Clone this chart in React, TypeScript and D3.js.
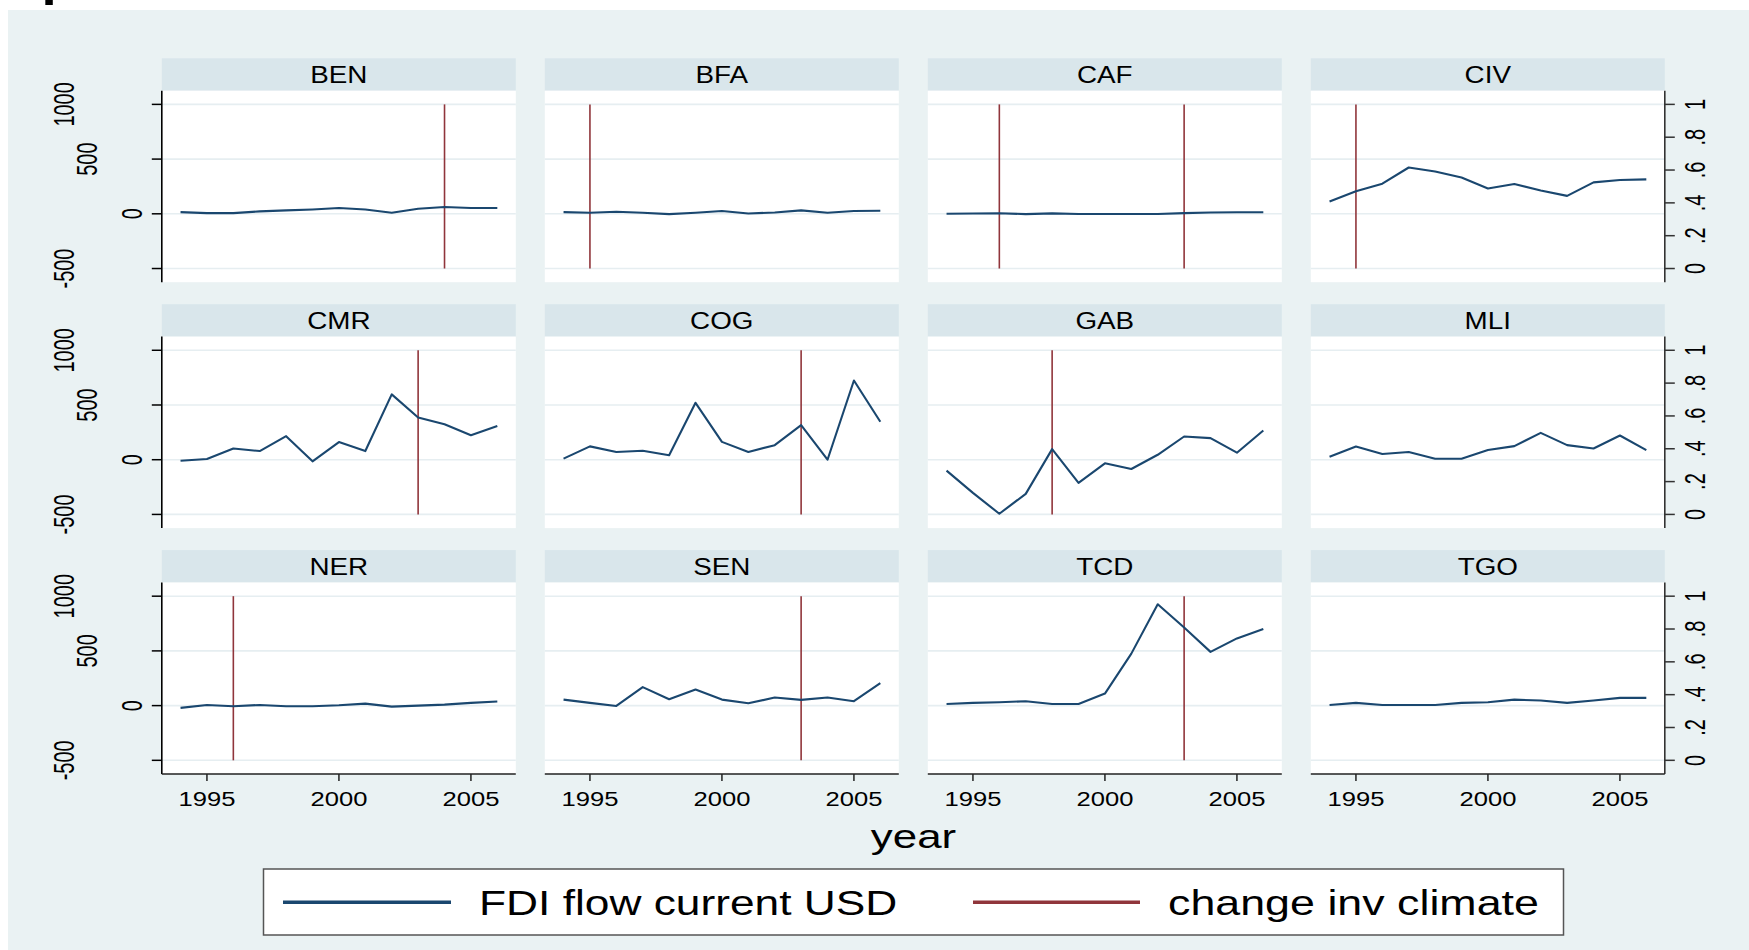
import React from 'react';
import * as d3 from 'd3';

// panels, in the order Stata lays them out
const countries = ['BEN', 'BFA', 'CAF', 'CIV', 'CMR', 'COG', 'GAB', 'MLI', 'NER', 'SEN', 'TCD', 'TGO'];
const years = [1994, 1995, 1996, 1997, 1998, 1999, 2000, 2001, 2002, 2003, 2004, 2005, 2006];

// FDI flow, current USD (millions)
const fdiBEN = [15, 6, 6, 22, 31, 40, 53, 40, 9, 46, 62, 53, 53];
const fdiBFA = [15, 9, 19, 9, -3, 9, 25, 3, 12, 31, 9, 25, 28];
const fdiCAF = [0, 3, 5, -3, 4, -2, -2, -2, -2, 6, 12, 14, 14];
const fdiCIV = [112, 207, 275, 423, 386, 331, 232, 272, 213, 164, 287, 309, 315];
const fdiCMR = [-9, 6, 103, 79, 215, -15, 161, 79, 597, 385, 324, 224, 309];
const fdiCOG = [10, 122, 71, 82, 41, 520, 163, 71, 133, 316, 0, 724, 347];
const fdiGAB = [-100, -303, -494, -312, 97, -212, -33, -85, 45, 212, 197, 64, 267];
const fdiMLI = [27, 121, 52, 70, 9, 9, 88, 124, 245, 133, 103, 221, 88];
const fdiNER = [-21, 6, -6, 6, -6, -6, 3, 18, -9, 0, 9, 25, 37];
const fdiSEN = [55, 25, -3, 169, 58, 147, 55, 21, 74, 52, 74, 40, 206];
const fdiTCD = [15, 25, 31, 40, 15, 15, 110, 475, 926, 713, 491, 614, 700];
const fdiTGO = [6, 25, 6, 6, 6, 25, 31, 55, 46, 25, 46, 71, 71];

// years where "change inv climate" = 1
const changeBEN = [2004];
const changeBFA = [1995];
const changeCAF = [1996, 2003];
const changeCIV = [1995];
const changeCMR = [2003];
const changeCOG = [2003];
const changeGAB = [1998];
const changeMLI: number[] = [];
const changeNER = [1996];
const changeSEN = [2003];
const changeTCD = [2003];
const changeTGO: number[] = [];

const fdiSeries = [fdiBEN, fdiBFA, fdiCAF, fdiCIV, fdiCMR, fdiCOG, fdiGAB, fdiMLI, fdiNER, fdiSEN, fdiTCD, fdiTGO];
const changeSeries = [changeBEN, changeBFA, changeCAF, changeCIV, changeCMR, changeCOG, changeGAB, changeMLI, changeNER, changeSEN, changeTCD, changeTGO];

const leftTicks = [-500, 0, 500, 1000];
const rightTicks = [0, 0.2, 0.4, 0.6, 0.8, 1];
const rightLabels = ['0', '.2', '.4', '.6', '.8', '1'];
const yearTicks = [1995, 2000, 2005];

const legendLabels = ['FDI flow current USD', 'change inv climate'];

const FONT = '"Liberation Sans", Arial, sans-serif';
const NAVY = '#1a476f';
const MAROON = '#90353b';
const BG = '#eaf2f3';
const STRIP = '#d9e6eb';
const GRID = '#e6eef1';

const colX0 = 161.8;
const colPitch = 383;
const colW = 354;
const rowY0 = 58.3;
const rowPitch = 245.9;
const stripH = 32.4;
const plotH = 191.5;

// text in the picture is wider than it is tall, so stretch it
function SText({ x, y, size, k, anchor = 'middle', rotate = false, weight = 'normal', children }: any) {
  if (rotate) {
    return (
      <g transform={`translate(${x},${y}) scale(${k},1) rotate(-90)`}>
        <text x={0} y={size * 0.358} fontSize={size} fontFamily={FONT} textAnchor={anchor} fill="#000">
          {children}
        </text>
      </g>
    );
  }
  return (
    <g transform={`translate(${x},${y}) scale(${k},1)`}>
      <text x={0} y={0} fontSize={size} fontFamily={FONT} fontWeight={weight} textAnchor={anchor} fill="#000">
        {children}
      </text>
    </g>
  );
}

export default function App() {
  const x = d3.scaleLinear().domain([1993.29, 2006.7]).range([0, colW]);
  const y = d3.scaleLinear().domain([-625, 1125]).range([plotH, 0]);
  const yr = d3.scaleLinear().domain([0, 1]).range([y(-500), y(1000)]);
  const line = d3
    .line<number>()
    .x((d, i) => x(years[i]))
    .y(d => y(d));

  return (
    <div style={{ position: 'absolute', left: 0, top: 0 }}>
      <svg width={1749} height={950} style={{ display: 'block' }}>
        <rect x={0} y={0} width={1749} height={950} fill="#fff" />
        <rect x={8} y={10} width={1741} height={940} fill={BG} />
        {/* cut-off title */}
        <SText x={41.4} y={-4} size={43} k={1.27} anchor="start" weight="bold">p</SText>

        {countries.map((c, idx) => {
          const col = idx % 4;
          const row = Math.floor(idx / 4);
          const px = colX0 + col * colPitch;
          const sy = rowY0 + row * rowPitch;
          const py = sy + stripH;
          return (
            <g key={c}>
              <rect x={px} y={sy} width={colW} height={stripH} fill={STRIP} />
              <SText x={px + colW / 2} y={sy + stripH / 2 + 8.2} size={23} k={1.21}>{c}</SText>
              <g transform={`translate(${px},${py})`}>
                <rect x={0} y={0} width={colW} height={plotH} fill="#fff" />
                {leftTicks.map(t => (
                  <line key={t} x1={0} x2={colW} y1={y(t)} y2={y(t)} stroke={GRID} strokeWidth={1.6} />
                ))}
                {changeSeries[idx].map(yy => (
                  <line key={yy} x1={x(yy)} x2={x(yy)} y1={yr(0)} y2={yr(1)} stroke={MAROON} strokeWidth={1.6} />
                ))}
                <path d={line(fdiSeries[idx]) || ''} fill="none" stroke={NAVY} strokeWidth={2.1} strokeLinejoin="round" />

                {col === 0 && (
                  <g>
                    <line x1={0} x2={0} y1={0} y2={plotH} stroke="#000" strokeWidth={1.6} />
                    {leftTicks.map(t => {
                      const lab = String(t);
                      return (
                        <g key={t}>
                          <line x1={-10} x2={0} y1={y(t)} y2={y(t)} stroke="#000" strokeWidth={1.5} />
                          <SText x={-7 - 22.7 * lab.length} y={y(t)} size={20} k={1.45} rotate>{lab}</SText>
                        </g>
                      );
                    })}
                  </g>
                )}

                {col === 3 && (
                  <g>
                    <line x1={colW} x2={colW} y1={0} y2={plotH} stroke="#333" strokeWidth={1.6} />
                    {rightTicks.map((t, i) => (
                      <g key={t}>
                        <line x1={colW} x2={colW + 10} y1={yr(t)} y2={yr(t)} stroke="#333" strokeWidth={1.5} />
                        <SText x={colW + 29.5} y={yr(t)} size={20} k={1.45} rotate>{rightLabels[i]}</SText>
                      </g>
                    ))}
                  </g>
                )}

                {row === 2 && (
                  <g>
                    <line x1={0} x2={colW} y1={plotH} y2={plotH} stroke="#222" strokeWidth={1.6} />
                    {yearTicks.map(t => (
                      <g key={t}>
                        <line x1={x(t)} x2={x(t)} y1={plotH} y2={plotH + 7} stroke="#222" strokeWidth={1.5} />
                        <SText x={x(t)} y={plotH + 32} size={21} k={1.22}>{t}</SText>
                      </g>
                    ))}
                  </g>
                )}
              </g>
            </g>
          );
        })}

        <SText x={913.5} y={848} size={34} k={1.29}>year</SText>

        {/* legend */}
        <rect x={263.5} y={869} width={1300} height={66} fill="#fff" stroke="#555" strokeWidth={1.5} />
        <line x1={283} x2={451} y1={902.3} y2={902.3} stroke={NAVY} strokeWidth={3.5} />
        <SText x={479} y={915} size={35} k={1.266} anchor="start">{legendLabels[0]}</SText>
        <line x1={973} x2={1140} y1={902.3} y2={902.3} stroke={MAROON} strokeWidth={3.5} />
        <SText x={1168} y={915} size={35} k={1.28} anchor="start">{legendLabels[1]}</SText>
      </svg>
    </div>
  );
}
